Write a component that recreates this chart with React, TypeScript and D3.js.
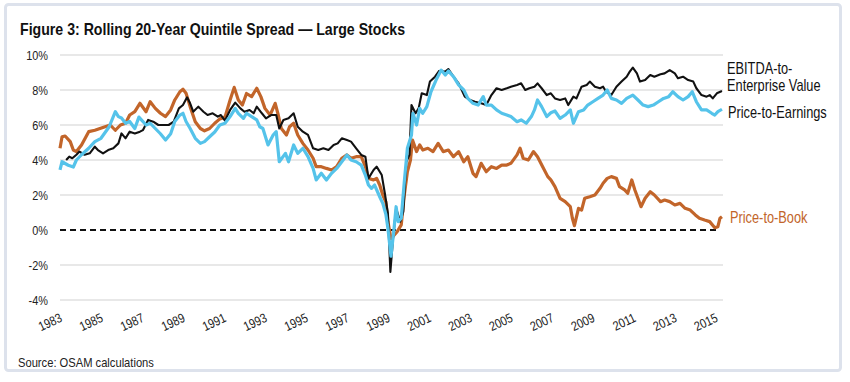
import React from "react";
import * as d3 from "d3";

const yTicks = [-4, -2, 0, 2, 4, 6, 8, 10];
const xTickYears = [1983, 1985, 1987, 1989, 1991, 1993, 1995, 1997, 1999, 2001, 2003, 2005, 2007, 2009, 2011, 2013, 2015];

const seriesNames = ["EBITDA-to-Enterprise Value", "Price-to-Earnings", "Price-to-Book"];

// [year, spread %]
const priceToEarnings: [number, number][] = [
  [1983.0, 3.43], [1983.1, 3.9], [1983.4, 3.7], [1983.65, 3.6], [1983.8, 4.0], [1984.05, 4.3], [1984.4, 4.67], [1984.7, 5.05],
  [1985.0, 5.24], [1985.4, 5.9], [1985.7, 6.76], [1985.85, 6.48], [1986.0, 6.4], [1986.2, 6.1], [1986.4, 6.2], [1986.65, 5.8],
  [1986.85, 6.45], [1987.2, 6.0], [1987.4, 6.1], [1987.65, 5.8], [1987.9, 5.5], [1988.15, 5.14], [1988.4, 5.5], [1988.6, 6.2],
  [1988.85, 6.57], [1989.0, 6.67], [1989.15, 6.2], [1989.35, 5.8], [1989.6, 5.24], [1989.85, 4.95], [1990.05, 5.05], [1990.3, 5.33],
  [1990.55, 5.6], [1990.8, 6.0], [1991.05, 6.1], [1991.3, 6.48], [1991.55, 6.95], [1991.7, 6.67], [1991.95, 6.38], [1992.1, 6.67],
  [1992.35, 6.48], [1992.6, 6.29], [1992.75, 5.9], [1992.9, 5.8], [1993.15, 4.86], [1993.4, 5.43], [1993.55, 5.62], [1993.7, 3.9],
  [1994.0, 4.38], [1994.15, 3.9], [1994.4, 4.86], [1994.6, 4.38], [1994.85, 4.67], [1995.1, 4.19], [1995.35, 3.52], [1995.5, 2.86],
  [1995.75, 3.24], [1996.0, 2.86], [1996.25, 3.24], [1996.5, 3.52], [1996.75, 3.9], [1997.0, 4.29], [1997.2, 4.0], [1997.45, 3.9],
  [1997.7, 3.71], [1997.9, 3.14], [1998.05, 2.57], [1998.2, 2.38], [1998.35, 2.57], [1998.6, 1.9], [1998.75, 1.52], [1998.9, 0.9],
  [1999.0, 0.1], [1999.15, -1.5], [1999.3, 0.1], [1999.4, 1.33], [1999.5, 0.48], [1999.65, 0.67], [1999.8, 2.76], [1999.95, 4.67],
  [2000.15, 5.43], [2000.22, 6.67], [2000.4, 6.0], [2000.55, 6.95], [2000.7, 6.67], [2000.9, 7.05], [2001.1, 7.9], [2001.35, 8.57],
  [2001.6, 9.14], [2001.8, 8.86], [2001.95, 9.09], [2002.2, 8.76], [2002.45, 8.29], [2002.7, 8.0], [2002.9, 7.52], [2003.15, 7.24],
  [2003.4, 7.14], [2003.65, 7.62], [2003.8, 7.14], [2004.05, 7.14], [2004.3, 6.86], [2004.55, 6.67], [2004.8, 6.57], [2005.0, 6.48],
  [2005.3, 6.19], [2005.5, 6.29], [2005.75, 6.1], [2006.0, 6.48], [2006.15, 6.86], [2006.3, 7.43], [2006.5, 7.05], [2006.75, 6.48],
  [2006.95, 6.7], [2007.15, 6.8], [2007.4, 6.38], [2007.65, 6.57], [2007.9, 6.86], [2008.05, 6.1], [2008.3, 6.76], [2008.55, 6.86],
  [2008.75, 7.14], [2009.0, 7.33], [2009.25, 7.52], [2009.5, 7.71], [2009.7, 8.0], [2009.9, 7.52], [2010.15, 7.43], [2010.4, 7.24],
  [2010.65, 7.52], [2010.95, 7.71], [2011.2, 7.43], [2011.45, 7.14], [2011.7, 7.05], [2011.95, 7.14], [2012.2, 7.33], [2012.45, 7.52],
  [2012.7, 7.62], [2012.9, 7.9], [2013.15, 7.62], [2013.4, 7.43], [2013.65, 7.62], [2013.85, 7.9], [2014.05, 7.33], [2014.3, 6.86],
  [2014.55, 6.86], [2014.8, 6.67], [2014.95, 6.57], [2015.1, 6.76], [2015.3, 6.9],
];

const ebitdaToEV: [number, number][] = [
  [1983.3, 4.0], [1983.45, 4.19], [1983.6, 4.1], [1983.8, 4.3], [1983.95, 4.48], [1984.2, 4.3], [1984.45, 4.38], [1984.7, 4.76],
  [1984.85, 4.57], [1985.1, 4.38], [1985.35, 4.57], [1985.6, 4.67], [1985.85, 4.95], [1986.0, 5.52], [1986.2, 5.24], [1986.4, 5.62],
  [1986.65, 5.52], [1986.9, 5.62], [1987.05, 5.71], [1987.3, 6.29], [1987.55, 6.19], [1987.8, 6.0], [1988.05, 6.0], [1988.3, 6.0],
  [1988.55, 6.19], [1988.8, 6.95], [1989.0, 7.14], [1989.2, 7.58], [1989.35, 7.24], [1989.5, 6.76], [1989.75, 7.05], [1990.0, 6.76],
  [1990.2, 6.57], [1990.45, 6.67], [1990.7, 6.48], [1990.85, 6.57], [1991.05, 6.25], [1991.3, 6.86], [1991.55, 7.28], [1991.8, 6.95],
  [1992.0, 6.76], [1992.25, 6.86], [1992.45, 6.67], [1992.6, 7.05], [1992.85, 6.67], [1993.05, 6.38], [1993.3, 6.57], [1993.55, 6.57],
  [1993.7, 5.8], [1993.9, 6.29], [1994.15, 6.38], [1994.4, 6.67], [1994.6, 5.9], [1994.85, 5.62], [1995.1, 5.43], [1995.35, 4.67],
  [1995.6, 4.57], [1995.85, 4.67], [1996.1, 4.57], [1996.35, 4.86], [1996.55, 4.95], [1996.75, 5.24], [1997.0, 5.14], [1997.2, 5.05],
  [1997.45, 4.67], [1997.7, 4.29], [1997.9, 4.19], [1998.05, 2.95], [1998.3, 3.43], [1998.45, 3.62], [1998.7, 3.14], [1998.85, 2.1],
  [1999.0, 0.95], [1999.12, -2.4], [1999.25, -0.5], [1999.4, 1.24], [1999.6, 0.48], [1999.75, 1.05], [1999.9, 3.9], [2000.05, 4.29],
  [2000.15, 7.14], [2000.35, 6.67], [2000.5, 6.95], [2000.65, 7.81], [2000.9, 7.71], [2001.05, 8.48], [2001.3, 8.76], [2001.5, 9.09],
  [2001.8, 9.05], [2001.95, 9.2], [2002.2, 8.76], [2002.45, 8.38], [2002.75, 7.62], [2003.0, 7.43], [2003.25, 7.33], [2003.55, 7.24],
  [2003.8, 7.14], [2004.05, 7.71], [2004.3, 8.1], [2004.55, 8.0], [2004.8, 8.1], [2005.0, 8.19], [2005.3, 8.29], [2005.5, 8.38],
  [2005.7, 8.0], [2005.9, 8.1], [2006.15, 8.19], [2006.3, 8.38], [2006.5, 8.1], [2006.75, 7.71], [2006.95, 7.81], [2007.15, 7.52],
  [2007.4, 7.43], [2007.65, 7.52], [2007.8, 7.14], [2008.05, 7.62], [2008.2, 7.52], [2008.45, 8.19], [2008.7, 8.29], [2008.85, 8.48],
  [2009.1, 8.19], [2009.35, 8.1], [2009.5, 8.19], [2009.65, 7.9], [2009.9, 7.71], [2010.15, 8.19], [2010.4, 8.48], [2010.65, 8.76],
  [2010.8, 9.05], [2010.95, 9.28], [2011.15, 8.95], [2011.3, 8.48], [2011.55, 8.57], [2011.8, 8.86], [2012.0, 8.76], [2012.3, 8.9],
  [2012.5, 8.95], [2012.75, 9.14], [2013.0, 8.95], [2013.15, 8.67], [2013.4, 8.76], [2013.65, 8.57], [2013.9, 8.48], [2014.05, 8.1],
  [2014.3, 7.71], [2014.55, 7.62], [2014.7, 7.71], [2014.85, 7.52], [2015.05, 7.81], [2015.3, 7.94],
];

const priceToBook: [number, number][] = [
  [1983.0, 4.67], [1983.1, 5.33], [1983.25, 5.37], [1983.5, 5.05], [1983.65, 4.57], [1983.8, 4.48], [1984.05, 4.86], [1984.4, 5.62],
  [1984.7, 5.7], [1984.95, 5.8], [1985.2, 5.9], [1985.45, 6.0], [1985.7, 5.7], [1985.95, 6.0], [1986.2, 6.1], [1986.4, 6.57],
  [1986.65, 6.76], [1986.9, 7.24], [1987.2, 6.76], [1987.4, 7.33], [1987.65, 6.95], [1987.9, 6.67], [1988.15, 6.48], [1988.4, 6.86],
  [1988.6, 7.43], [1988.85, 7.9], [1989.0, 8.04], [1989.15, 7.81], [1989.35, 7.05], [1989.6, 6.19], [1989.85, 5.8], [1990.05, 5.67],
  [1990.3, 5.8], [1990.55, 6.1], [1990.8, 6.35], [1991.05, 6.45], [1991.3, 7.43], [1991.5, 8.15], [1991.7, 7.43], [1991.9, 7.14],
  [1992.1, 7.8], [1992.35, 7.62], [1992.6, 8.1], [1992.8, 7.62], [1993.0, 6.95], [1993.25, 6.57], [1993.5, 7.24], [1993.65, 6.57],
  [1993.8, 5.8], [1994.05, 5.43], [1994.2, 5.9], [1994.4, 6.1], [1994.6, 5.43], [1994.85, 4.95], [1995.1, 4.57], [1995.35, 4.1],
  [1995.5, 3.62], [1995.75, 3.62], [1996.0, 3.52], [1996.25, 3.43], [1996.5, 3.62], [1996.75, 4.1], [1997.0, 4.29], [1997.2, 4.1],
  [1997.45, 4.19], [1997.7, 4.19], [1997.9, 3.62], [1998.05, 2.95], [1998.3, 2.86], [1998.45, 2.95], [1998.6, 2.57], [1998.75, 2.0],
  [1998.9, 1.6], [1999.0, 0.48], [1999.15, -0.5], [1999.45, -0.1], [1999.65, 0.29], [1999.8, 2.0], [1999.95, 3.33], [2000.1, 4.0],
  [2000.2, 5.14], [2000.4, 4.48], [2000.55, 4.86], [2000.7, 4.57], [2000.95, 4.67], [2001.2, 4.48], [2001.45, 4.95], [2001.7, 4.48],
  [2001.95, 4.57], [2002.2, 4.19], [2002.45, 4.48], [2002.7, 3.9], [2002.9, 4.19], [2003.15, 3.24], [2003.3, 3.05], [2003.55, 3.81],
  [2003.8, 3.33], [2004.05, 3.62], [2004.3, 3.52], [2004.55, 3.71], [2004.8, 3.71], [2005.0, 3.81], [2005.3, 4.29], [2005.45, 4.67],
  [2005.6, 4.1], [2005.85, 4.0], [2006.1, 4.48], [2006.3, 4.19], [2006.55, 3.62], [2006.8, 3.05], [2006.95, 2.86], [2007.15, 2.48],
  [2007.4, 1.81], [2007.65, 1.62], [2007.9, 1.33], [2008.0, 0.67], [2008.1, 0.25], [2008.3, 1.24], [2008.45, 1.14], [2008.6, 1.81],
  [2008.85, 1.9], [2009.1, 2.0], [2009.35, 2.38], [2009.5, 2.67], [2009.7, 2.95], [2009.9, 3.05], [2010.15, 2.95], [2010.3, 2.48],
  [2010.55, 2.29], [2010.7, 2.1], [2010.9, 2.86], [2011.05, 2.29], [2011.2, 1.81], [2011.35, 1.33], [2011.55, 1.81], [2011.8, 2.19],
  [2012.0, 2.0], [2012.3, 1.62], [2012.5, 1.71], [2012.75, 1.62], [2013.0, 1.43], [2013.25, 1.52], [2013.5, 1.24], [2013.75, 1.14],
  [2014.0, 0.86], [2014.2, 0.67], [2014.45, 0.57], [2014.7, 0.48], [2014.95, 0.13], [2015.1, 0.19], [2015.2, 0.67], [2015.3, 0.76],
];

const FONT = "'Liberation Sans', Arial, Helvetica, sans-serif";
const BLACK = "#111111";
const BLUE = "#55c3ea";
const BROWN = "#c2652a";

type CTextProps = {
  x: number;
  y: number;
  sx?: number;
  rotate?: number;
  anchor?: "start" | "middle" | "end";
  size: number;
  fill?: string;
  weight?: string;
  dy?: string;
  children: React.ReactNode;
};

function CText({ x, y, sx = 0.86, rotate = 0, anchor = "start", size, fill = "#222", weight = "normal", dy, children }: CTextProps) {
  return (
    <text
      transform={`translate(${x},${y}) rotate(${rotate}) scale(${sx},1)`}
      textAnchor={anchor}
      fontSize={size}
      fontWeight={weight}
      fill={fill}
      dy={dy}
    >
      {children}
    </text>
  );
}

export default function App() {
  const x = d3.scaleLinear().domain([1983, 2015.35]).range([60, 723]);
  const y = d3.scaleLinear().domain([-4, 10]).range([300, 55]);
  const line = d3
    .line<[number, number]>()
    .x((d) => x(d[0]))
    .y((d) => y(d[1]));

  return (
    <svg
      width={850}
      height={382}
      style={{ position: "absolute", left: 0, top: 0, background: "#fff" }}
      fontFamily={FONT}
    >
      <rect x={5.5} y={4.5} width={835} height={366} rx={3} fill="#fff" stroke="#dde2ec" strokeWidth={3} />
      <text
        x={20}
        y={35}
        fontSize={16.5}
        fontWeight="bold"
        fill="#111"
        textLength={385}
        lengthAdjust="spacingAndGlyphs"
      >
        Figure 3: Rolling 20-Year Quintile Spread — Large Stocks
      </text>

      {yTicks.map((t) => (
        <g key={t}>
          {t !== 0 && <line x1={60} x2={723} y1={y(t)} y2={y(t)} stroke="#e0e0e0" strokeWidth={1.5} />}
          <CText x={48} y={y(t)} dy="0.36em" anchor="end" size={13} sx={0.84}>
            {t}%
          </CText>
        </g>
      ))}
      <line x1={60} x2={718} y1={y(0)} y2={y(0)} stroke="#111" strokeWidth={1.8} strokeDasharray="6,4" />

      {xTickYears.map((yr) => (
        <CText key={yr} x={x(yr) + 3} y={321} rotate={-25} anchor="end" size={13} sx={0.84}>
          {yr}
        </CText>
      ))}

      <path d={line(priceToBook) || ""} fill="none" stroke={BROWN} strokeWidth={3.2} strokeLinejoin="round" />
      <path d={line(ebitdaToEV) || ""} fill="none" stroke={BLACK} strokeWidth={2.1} strokeLinejoin="round" />
      <path d={line(priceToEarnings) || ""} fill="none" stroke={BLUE} strokeWidth={3.2} strokeLinejoin="round" />

      <CText x={727} y={74} size={16} fill="#111" sx={0.8}>EBITDA-to-</CText>
      <CText x={727} y={91} size={16} fill="#111" sx={0.8}>Enterprise Value</CText>
      <CText x={728} y={118} size={16} fill="#111" sx={0.8}>{seriesNames[1]}</CText>
      <CText x={730} y={223} size={16} fill={BROWN} sx={0.8}>{seriesNames[2]}</CText>

      <CText x={18} y={367} size={13} sx={0.86}>Source: OSAM calculations</CText>
    </svg>
  );
}
